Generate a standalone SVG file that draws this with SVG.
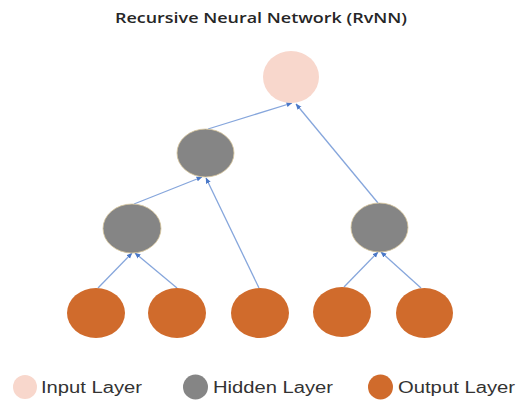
<svg xmlns="http://www.w3.org/2000/svg" width="519" height="400" viewBox="0 0 519 400">
  <style>
    .title { font-family: "Open Sans", "Liberation Sans", sans-serif; font-weight: 600; font-size: 15px; fill: #262626; }
    .legend { font-family: "Liberation Sans", Arial, sans-serif; font-size: 16px; fill: #333333; }
    .input { fill: #F8D7CC; }
    .hidden { fill: #858585; stroke: #D8C79C; stroke-width: 0.8; }
    .output { fill: #D06B2C; }
    .edge { stroke: #86A6DC; stroke-width: 1.3; fill: none; marker-end: url(#arrow); }
  </style>
  <defs>
    <marker id="arrow" markerUnits="userSpaceOnUse" markerWidth="6" markerHeight="6" viewBox="0 0 6 6" refX="5.5" refY="3" orient="auto">
      <path d="M0,0.5 L6,3 L0,5.5 Z" fill="#4A78C8"/>
    </marker>
  </defs>

  <rect width="519" height="400" fill="#FFFFFF"/>

  <text class="title" x="261" y="23" text-anchor="middle" textLength="292" lengthAdjust="spacingAndGlyphs">Recursive Neural Network (RvNN)</text>

  <!-- connectors: child to parent -->
  <g id="edges">
    <line class="edge" x1="208" y1="129" x2="292" y2="103"/>
    <line class="edge" x1="378" y1="203" x2="296" y2="104"/>
    <line class="edge" x1="134" y1="204" x2="202" y2="177"/>
    <line class="edge" x1="259" y1="288" x2="206" y2="178"/>
    <line class="edge" x1="98" y1="288" x2="132" y2="253"/>
    <line class="edge" x1="177" y1="288" x2="135" y2="253"/>
    <line class="edge" x1="344" y1="287" x2="378" y2="252"/>
    <line class="edge" x1="421" y1="288" x2="381" y2="252"/>
  </g>

  <g id="input-node"><ellipse class="input" cx="291" cy="77" rx="28" ry="26"/></g>
  <g id="hidden-top"><ellipse class="hidden" cx="205.5" cy="153" rx="28.5" ry="24"/></g>
  <g id="hidden-left"><ellipse class="hidden" cx="132" cy="228.5" rx="29" ry="24.5"/></g>
  <g id="hidden-right"><ellipse class="hidden" cx="379.5" cy="227.5" rx="28.5" ry="24.5"/></g>
  <g id="output-1"><ellipse class="output" cx="96" cy="313" rx="29" ry="25"/></g>
  <g id="output-2"><ellipse class="output" cx="177" cy="313" rx="29" ry="25"/></g>
  <g id="output-3"><ellipse class="output" cx="260" cy="313" rx="29" ry="25"/></g>
  <g id="output-4"><ellipse class="output" cx="342" cy="312" rx="29" ry="25"/></g>
  <g id="output-5"><ellipse class="output" cx="424.5" cy="313" rx="28.5" ry="25"/></g>

  <!-- legend -->
  <g id="legend-input">
    <circle class="input" cx="25" cy="387" r="12"/>
    <text class="legend" x="41" y="393" textLength="101" lengthAdjust="spacingAndGlyphs">Input Layer</text>
  </g>
  <g id="legend-hidden">
    <circle cx="195.5" cy="387" r="12.5" fill="#858585"/>
    <text class="legend" x="213" y="393" textLength="120" lengthAdjust="spacingAndGlyphs">Hidden Layer</text>
  </g>
  <g id="legend-output">
    <circle class="output" cx="380.5" cy="387" r="12.5"/>
    <text class="legend" x="398" y="393" textLength="117" lengthAdjust="spacingAndGlyphs">Output Layer</text>
  </g>
</svg>
